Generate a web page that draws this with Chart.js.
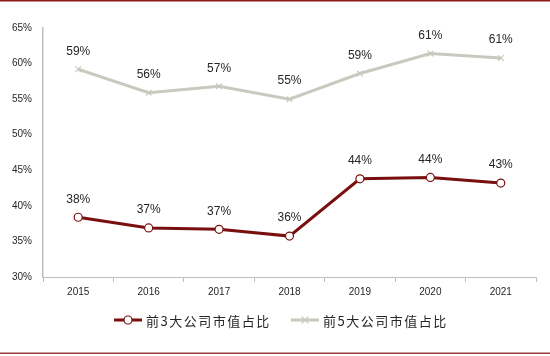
<!DOCTYPE html>
<html><head><meta charset="utf-8">
<script src="https://cdn.jsdelivr.net/npm/chart.js@4"></script>
<style>html,body{margin:0;padding:0;background:#fff}#wrap{width:550px;height:356px;position:relative}</style>
</head><body><div id="wrap"><canvas id="c" width="550" height="356"></canvas></div>
<script>
const years = ['2015','2016','2017','2018','2019','2020','2021'];
const top3Share = [38.4, 36.9, 36.7, 35.75, 43.8, 44.0, 43.2];
const top5Share = [59.2, 55.9, 56.8, 55.0, 58.6, 61.4, 60.8];
const seriesNames = ['前3大公司市值占比', '前5大公司市值占比'];
const yTicks = [30, 35, 40, 45, 50, 55, 60, 65];

const RED = '#7a0f0f';
const GREY = '#c9c9bf';

const framePlugin = {
  id: 'frame',
  afterDraw(chart) {
    const ctx = chart.ctx;
    ctx.save();
    ctx.fillStyle = '#8b1a1a';
    ctx.fillRect(0, 0, 550, 1.5);
    ctx.fillStyle = '#9b3a3a';
    ctx.fillRect(0, 352.5, 550, 1.5);
    // data labels
    ctx.font = '12px "Liberation Sans", Arial, sans-serif';
    ctx.fillStyle = '#262626';
    ctx.textAlign = 'center';
    ctx.textBaseline = 'middle';
    chart.data.datasets.forEach((ds, i) => {
      const meta = chart.getDatasetMeta(i);
      meta.data.forEach((pt, j) => {
        ctx.fillText(Math.round(ds.data[j]) + '%', pt.x, pt.y - 18);
      });
    });
    // legend
    const ly = 320;
    const items = [
      {x: 114, color: RED, style: 'circle', text: seriesNames[0]},
      {x: 291, color: GREY, style: 'crossRot', text: seriesNames[1]}
    ];
    ctx.font = '13px "Noto Sans CJK SC", sans-serif';
    ctx.textAlign = 'left';
    try { ctx.letterSpacing = '1.5px'; } catch(e) {}
    items.forEach(it => {
      ctx.strokeStyle = it.color;
      ctx.lineWidth = 3;
      ctx.beginPath(); ctx.moveTo(it.x, ly); ctx.lineTo(it.x + 28, ly); ctx.stroke();
      const cx = it.x + 14;
      if (it.style === 'circle') {
        ctx.fillStyle = '#fff'; ctx.lineWidth = 1.2;
        ctx.beginPath(); ctx.arc(cx, ly, 4, 0, Math.PI * 2); ctx.fill(); ctx.stroke();
      } else {
        ctx.lineWidth = 1.2;
        ctx.beginPath(); ctx.moveTo(cx - 3.5, ly - 3.5); ctx.lineTo(cx + 3.5, ly + 3.5);
        ctx.moveTo(cx - 3.5, ly + 3.5); ctx.lineTo(cx + 3.5, ly - 3.5); ctx.stroke();
      }
      ctx.fillStyle = '#262626';
      ctx.fillText(it.text, it.x + 32, ly + 1);
    });
    ctx.restore();
  }
};

new Chart(document.getElementById('c'), {
  type: 'line',
  data: {
    labels: years,
    datasets: [
      {label: seriesNames[0], data: top3Share, borderColor: RED, borderWidth: 3,
       pointStyle: 'circle', pointRadius: 4, pointBackgroundColor: '#fff', pointBorderColor: RED,
       pointBorderWidth: 1.2, tension: 0},
      {label: seriesNames[1], data: top5Share, borderColor: GREY, borderWidth: 3,
       pointStyle: 'crossRot', pointRadius: 4, pointBorderColor: GREY,
       pointBorderWidth: 1.2, tension: 0}
    ]
  },
  options: {
    responsive: false, animation: false,
    layout: {padding: {top: 28, right: 14, left: 0, bottom: 0}},
    plugins: {legend: {display: false}, tooltip: {enabled: false}},
    scales: {
      x: {
        offset: true,
        grid: {display: true, offset: true, drawOnChartArea: false, tickLength: 5, color: '#bfbfbf'},
        border: {display: true, color: '#bfbfbf', width: 1},
        ticks: {color: '#262626', font: {family: '"Liberation Sans", Arial, sans-serif', size: 10}, padding: 4},
        afterFit(s) { s.height = 79; }
      },
      y: {
        min: 30, max: 65,
        grid: {display: false},
        border: {display: true, color: '#bfbfbf', width: 1.5},
        afterBuildTicks(s) { s.ticks = yTicks.map(v => ({value: v})); },
        ticks: {color: '#262626', font: {family: '"Liberation Sans", Arial, sans-serif', size: 10}, padding: 3,
                callback: v => v + '%'},
        afterFit(s) { s.width = 43; }
      }
    }
  },
  plugins: [framePlugin]
});
</script></body></html>
